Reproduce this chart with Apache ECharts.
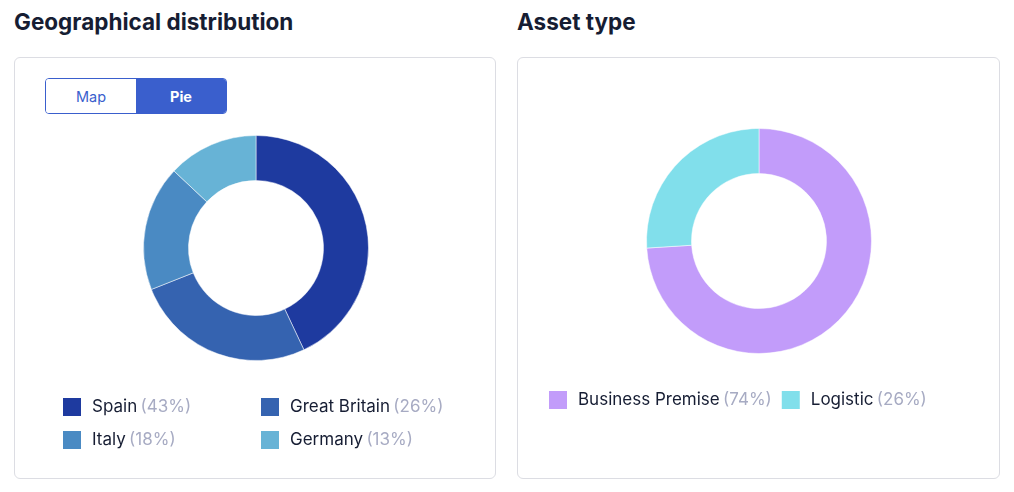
<!DOCTYPE html>
<html>
<head>
<meta charset="utf-8">
<script src="https://cdn.jsdelivr.net/npm/echarts@6/dist/echarts.min.js"></script>
<style>
  html, body { margin: 0; padding: 0; background: #fff; }
  body { width: 1014px; height: 492px; position: relative; font-family: Inter, "Noto Sans", sans-serif; color: #161d33; }
  .title { position: absolute; top: 8px; margin: 0; font-size: 22.5px; font-weight: 700; letter-spacing: 0; line-height: 28px; }
  .card { position: absolute; top: 57px; height: 420px; border: 1px solid #dcdde3; border-radius: 6px; box-sizing: content-box; }
  .chart { position: absolute; left: 0; top: 0; width: 100%; height: 100%; }
  .toggle { position: absolute; left: 30px; top: 20px; width: 180px; height: 34px; border: 1px solid #3a5fcd; border-radius: 4px; display: flex; overflow: hidden; z-index: 2; font-size: 14.5px; }
  .toggle div { flex: 1; display: flex; align-items: center; justify-content: center; }
  .toggle .off { color: #3a5fcd; background: #fff; }
  .toggle .on { color: #fff; background: #3a5fcd; font-weight: 700; }
</style>
</head>
<body>
<h2 class="title" style="left:14px">Geographical distribution</h2>
<h2 class="title" style="left:517px">Asset type</h2>

<div class="card" style="left:14px; width:480px">
  <div class="toggle"><div class="off">Map</div><div class="on">Pie</div></div>
  <div class="chart" id="geo"></div>
</div>
<div class="card" style="left:517px; width:481px">
  <div class="chart" id="asset"></div>
</div>

<script>
// geographical split, clockwise from 12 o'clock
const geoNames = ['Spain', 'Great Britain', 'Italy', 'Germany'];
const geoShares = [43, 26, 18, 13];
const geoColors = ['#1e3a9f', '#3563b0', '#4a8ac3', '#67b3d6'];

const assetNames = ['Business Premise', 'Logistic'];
const assetShares = [74, 26];
const assetColors = ['#c29cfa', '#81dfeb'];

const nameColor = '#161d33';
const pctColor = '#a7abc3';

function legendText(names, shares) {
  return (name) => {
    const i = names.indexOf(name);
    return '{n|' + name + '} {p|(' + shares[i] + '%)}';
  };
}

function legendBase(names, shares) {
  return {
    icon: 'rect',
    itemWidth: 20,
    itemHeight: 20,
    selectedMode: false,
    formatter: legendText(names, shares),
    textStyle: {
      padding: [0, 0, 0, 5],
      rich: {
        n: { fontFamily: 'Inter, sans-serif', fontSize: 17, color: nameColor, lineHeight: 20 },
        p: { fontFamily: 'Inter, sans-serif', fontSize: 17, color: pctColor, lineHeight: 20 }
      }
    }
  };
}

function donut(names, shares, colors, center) {
  return {
    type: 'pie',
    center: center,
    radius: [67.5, 112.5],
    startAngle: 90,
    clockwise: true,
    silent: true,
    label: { show: false },
    labelLine: { show: false },
    itemStyle: { borderColor: '#fff', borderWidth: 0.5 },
    data: names.map((n, i) => ({ name: n, value: shares[i], itemStyle: { color: colors[i] } }))
  };
}

const geoChart = echarts.init(document.getElementById('geo'), null, { renderer: 'canvas' });
geoChart.setOption({
  animation: false,
  legend: [
    Object.assign(legendBase(geoNames, geoShares), {
      data: ['Spain', 'Italy'], orient: 'vertical', left: 46, top: 338, itemGap: 11, padding: 0
    }),
    Object.assign(legendBase(geoNames, geoShares), {
      data: ['Great Britain', 'Germany'], orient: 'vertical', left: 244, top: 338, itemGap: 11, padding: 0
    })
  ],
  series: [donut(geoNames, geoShares, geoColors, [241, 190])]
});

const assetChart = echarts.init(document.getElementById('asset'), null, { renderer: 'canvas' });
assetChart.setOption({
  animation: false,
  legend: Object.assign(legendBase(assetNames, assetShares), {
    data: assetNames, orient: 'horizontal', left: 29, top: 331, itemGap: 8, padding: 0
  }),
  series: [donut(assetNames, assetShares, assetColors, [241, 183])]
});
</script>
</body>
</html>
